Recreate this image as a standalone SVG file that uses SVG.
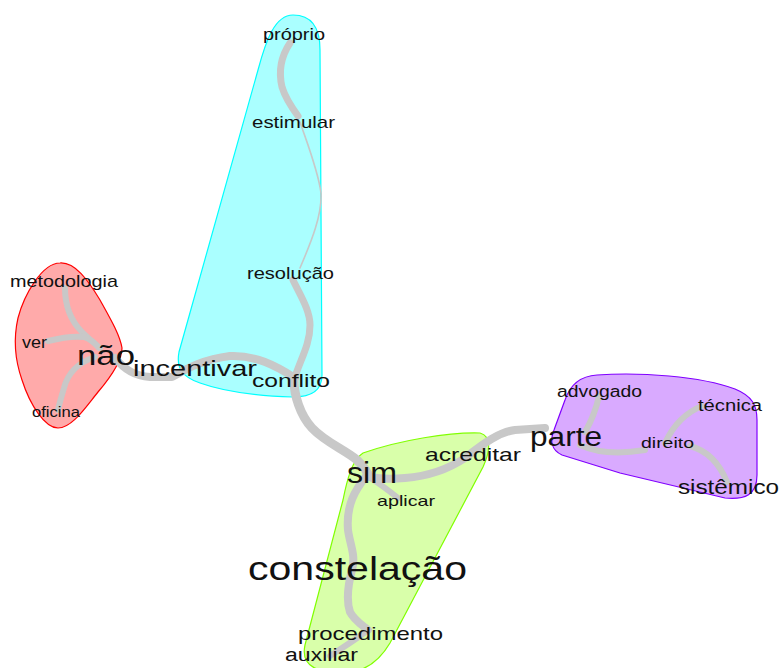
<svg xmlns="http://www.w3.org/2000/svg" width="779" height="668" viewBox="0 0 779 668">
<style>
.hull{stroke-width:1.2}
.e{fill:none;stroke:#c8c8c8;stroke-linecap:round;stroke-linejoin:round}
.w9{stroke-width:9}.w8{stroke-width:8}.w7{stroke-width:7}.w6{stroke-width:6}.w2{stroke-width:1.6}
text{font-family:"Liberation Sans",Arial,sans-serif;fill:#111}
</style>
<rect width="779" height="668" fill="#fff"/>
<g id="clusters">
<path id="hull-cyan" class="hull" fill="#aaffff" stroke="#00ffff" d="M 293,15 C 312,15 320,28 320,50 L 322,375 C 322,392 310,397 293,397 C 260,396 225,392 200,383 C 182,377 176,368 179,352 L 258,70 C 266,40 275,15 293,15 Z"/>
<path id="hull-red" class="hull" fill="#ffaaaa" stroke="#ff0000" d="M 60,263 C 75,262 88,280 100,300 C 110,318 120,335 122,348 C 122,362 110,378 98,392 C 85,408 72,428 58,428 C 45,428 30,405 22,380 C 15,360 13,340 18,318 C 24,295 42,263 60,263 Z"/>
<path id="hull-green" class="hull" fill="#d9ffaa" stroke="#80ff00" d="M 363,453 C 400,440 450,432 480,433 C 492,436 490,452 483,467 L 390,643 C 380,660 368,670 350,672 C 320,674 300,668 305,645 L 343,500 C 347,480 352,460 363,453 Z"/>
<path id="hull-purple" class="hull" fill="#d9aaff" stroke="#8000ff" d="M 597,375 C 640,372 700,376 735,389 C 752,396 757,405 757,420 L 757,475 C 757,495 745,500 725,498 L 620,473 L 562,455 C 551,450 550,440 554,430 L 565,400 C 570,385 580,376 597,375 Z"/>
</g>
<g id="connectors">
<path class="e w7" d="M 290,43 C 282,55 278,70 282,87 C 285,97 290,105 298,116"/>
<path class="e w2" d="M 300,122 C 306,140 318,170 321,193 C 322,215 312,240 300,268"/>
<path class="e w7" d="M 293,280 C 300,295 310,310 310,325 C 310,345 300,360 294,380"/>
<path class="e w9" d="M 294,380 C 294,395 300,415 312,428 C 325,442 345,450 357,460 C 362,465 366,470 368,474"/>
<path class="e w8" d="M 115,358 C 125,370 135,376 150,377 L 172,377 C 185,370 200,360 230,356 C 255,355 275,365 295,378"/>
<path class="e w6" d="M 65,288 C 65,305 70,320 82,332 C 88,338 94,343 100,348"/>
<path class="e w6" d="M 48,341 C 60,338 75,336 84,337 C 90,339 95,343 99,348"/>
<path class="e w6" d="M 95,357 C 80,362 68,372 64,388 C 61,398 59,405 58,410"/>
<path class="e w6" d="M 372,479 C 380,484 388,490 398,498"/>
<path class="e w8" d="M 370,477 C 385,480 395,479 405,478 C 430,476 450,468 465,458 C 485,442 500,432 515,430 L 545,428"/>
<path class="e w8" d="M 367,475 C 355,490 346,505 348,530 C 350,545 356,555 352,570 C 348,585 346,600 350,612 C 354,620 362,625 368,630"/>
<path class="e w6" d="M 368,630 C 355,640 342,648 330,656"/>
<path class="e w6" d="M 585,432 C 592,420 596,410 599,396"/>
<path class="e w6" d="M 580,445 C 595,452 615,455 645,450"/>
<path class="e w6" d="M 665,443 C 672,428 682,414 702,406"/>
<path class="e w6" d="M 690,446 C 705,450 718,460 727,482"/>
</g>
<g id="node-proprio"><text x="263" y="40" font-size="16" textLength="62" lengthAdjust="spacingAndGlyphs">próprio</text></g>
<g id="node-estimular"><text x="252" y="128" font-size="17" textLength="83" lengthAdjust="spacingAndGlyphs">estimular</text></g>
<g id="node-resolucao"><text x="247" y="279" font-size="17" textLength="87" lengthAdjust="spacingAndGlyphs">resolução</text></g>
<g id="node-metodologia"><text x="10" y="287" font-size="17" textLength="108" lengthAdjust="spacingAndGlyphs">metodologia</text></g>
<g id="node-ver"><text x="22" y="348" font-size="16" textLength="25" lengthAdjust="spacingAndGlyphs">ver</text></g>
<g id="node-oficina"><text x="32" y="417" font-size="14" textLength="48" lengthAdjust="spacingAndGlyphs">oficina</text></g>
<g id="node-nao"><text x="77" y="365" font-size="27" textLength="58" lengthAdjust="spacingAndGlyphs">não</text></g>
<g id="node-incentivar"><text x="133" y="376" font-size="22" textLength="124" lengthAdjust="spacingAndGlyphs">incentivar</text></g>
<g id="node-conflito"><text x="252" y="387" font-size="19" textLength="78" lengthAdjust="spacingAndGlyphs">conflito</text></g>
<g id="node-sim"><text x="347" y="483" font-size="30" textLength="50" lengthAdjust="spacingAndGlyphs">sim</text></g>
<g id="node-aplicar"><text x="377" y="506" font-size="15" textLength="58" lengthAdjust="spacingAndGlyphs">aplicar</text></g>
<g id="node-acreditar"><text x="425" y="461" font-size="19" textLength="96" lengthAdjust="spacingAndGlyphs">acreditar</text></g>
<g id="node-constelacao"><text x="248" y="580" font-size="34" textLength="219" lengthAdjust="spacingAndGlyphs">constelação</text></g>
<g id="node-procedimento"><text x="298" y="640" font-size="19" textLength="145" lengthAdjust="spacingAndGlyphs">procedimento</text></g>
<g id="node-auxiliar"><text x="285" y="661" font-size="18" textLength="73" lengthAdjust="spacingAndGlyphs">auxiliar</text></g>
<g id="node-parte"><text x="530" y="446" font-size="27" textLength="72" lengthAdjust="spacingAndGlyphs">parte</text></g>
<g id="node-advogado"><text x="557" y="397" font-size="16" textLength="85" lengthAdjust="spacingAndGlyphs">advogado</text></g>
<g id="node-tecnica"><text x="698" y="411" font-size="16" textLength="64" lengthAdjust="spacingAndGlyphs">técnica</text></g>
<g id="node-direito"><text x="641" y="448" font-size="15" textLength="53" lengthAdjust="spacingAndGlyphs">direito</text></g>
<g id="node-sistemico"><text x="678" y="494" font-size="20" textLength="101" lengthAdjust="spacingAndGlyphs">sistêmico</text></g>
</svg>
